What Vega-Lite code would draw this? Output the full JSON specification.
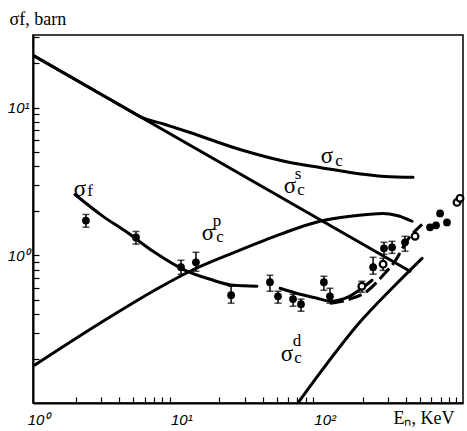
{
  "$schema": "https://vega.github.io/schema/vega-lite/v6.json",
  "width": 430,
  "height": 368,
  "autosize": {"type": "none"},
  "padding": {"left": 33, "top": 35, "right": 4, "bottom": 28},
  "background": "white",
  "config": {
    "view": {"stroke": "black", "strokeWidth": 1.5},
    "axis": {"grid": false, "domainColor": "black", "domainWidth": 2, "tickColor": "black", "tickWidth": 1.2, "labelColor": "black", "titleColor": "black"}
  },
  "datasets": {
    "curves": [
      {"curve": "cs", "E": 1, "sigma": 22.6},
      {"curve": "cs", "E": 427, "sigma": 0.78},
      {"curve": "c", "E": 1, "sigma": 22.6},
      {"curve": "c", "E": 2, "sigma": 15.37},
      {"curve": "c", "E": 3.5, "sigma": 11.26},
      {"curve": "c", "E": 4.6, "sigma": 9.67},
      {"curve": "c", "E": 5.58, "sigma": 8.69},
      {"curve": "c", "E": 8.34, "sigma": 7.68},
      {"curve": "c", "E": 12.46, "sigma": 6.78},
      {"curve": "c", "E": 27.8, "sigma": 5.2},
      {"curve": "c", "E": 62.1, "sigma": 4.25},
      {"curve": "c", "E": 100.5, "sigma": 3.93},
      {"curve": "c", "E": 163, "sigma": 3.64},
      {"curve": "c", "E": 286, "sigma": 3.42},
      {"curve": "c", "E": 448, "sigma": 3.37},
      {"curve": "cp", "E": 1.03, "sigma": 0.181},
      {"curve": "cp", "E": 2.93, "sigma": 0.347},
      {"curve": "cp", "E": 7.69, "sigma": 0.608},
      {"curve": "cp", "E": 12.46, "sigma": 0.78},
      {"curve": "cp", "E": 26.5, "sigma": 1.064},
      {"curve": "cp", "E": 52.9, "sigma": 1.386},
      {"curve": "cp", "E": 100.5, "sigma": 1.7},
      {"curve": "cp", "E": 163, "sigma": 1.835},
      {"curve": "cp", "E": 277, "sigma": 1.92},
      {"curve": "cp", "E": 346, "sigma": 1.86},
      {"curve": "cp", "E": 441, "sigma": 1.7},
      {"curve": "fA", "E": 1.963, "sigma": 2.58},
      {"curve": "fA", "E": 3.08, "sigma": 1.835},
      {"curve": "fA", "E": 4.53, "sigma": 1.43},
      {"curve": "fA", "E": 6.88, "sigma": 1.064},
      {"curve": "fA", "E": 11.13, "sigma": 0.804},
      {"curve": "fA", "E": 17.2, "sigma": 0.688},
      {"curve": "fA", "E": 24.9, "sigma": 0.627},
      {"curve": "fA", "E": 36.5, "sigma": 0.617},
      {"curve": "fB", "E": 52.9, "sigma": 0.598},
      {"curve": "fB", "E": 72.9, "sigma": 0.545},
      {"curve": "fB", "E": 95.8, "sigma": 0.512},
      {"curve": "fB", "E": 118, "sigma": 0.489},
      {"curve": "fB", "E": 160, "sigma": 0.525},
      {"curve": "fB", "E": 197, "sigma": 0.598},
      {"curve": "fB", "E": 232, "sigma": 0.678},
      {"curve": "fC", "E": 118, "sigma": 0.474},
      {"curve": "fC", "E": 163, "sigma": 0.505},
      {"curve": "fC", "E": 214, "sigma": 0.571},
      {"curve": "fC", "E": 277, "sigma": 0.733},
      {"curve": "fC", "E": 335, "sigma": 0.911},
      {"curve": "fC", "E": 413, "sigma": 1.28},
      {"curve": "fC", "E": 518, "sigma": 1.62},
      {"curve": "cd", "E": 70.6, "sigma": 0.1},
      {"curve": "cd", "E": 105.5, "sigma": 0.17},
      {"curve": "cd", "E": 191, "sigma": 0.353},
      {"curve": "cd", "E": 325, "sigma": 0.608},
      {"curve": "cd", "E": 518, "sigma": 0.954}
    ],
    "points": [
      {"E": 2.34, "sigma": 1.72, "lo": 1.55, "hi": 1.89, "marker": "filled"},
      {"E": 5.23, "sigma": 1.32, "lo": 1.19, "hi": 1.45, "marker": "filled"},
      {"E": 10.78, "sigma": 0.83, "lo": 0.744, "hi": 0.925, "marker": "filled"},
      {"E": 13.7, "sigma": 0.897, "lo": 0.78, "hi": 1.048, "marker": "filled"},
      {"E": 24.1, "sigma": 0.537, "lo": 0.474, "hi": 0.617, "marker": "filled"},
      {"E": 45.0, "sigma": 0.657, "lo": 0.571, "hi": 0.733, "marker": "filled"},
      {"E": 51.2, "sigma": 0.528, "lo": 0.474, "hi": 0.571, "marker": "filled"},
      {"E": 65.2, "sigma": 0.505, "lo": 0.452, "hi": 0.545, "marker": "filled"},
      {"E": 74.1, "sigma": 0.467, "lo": 0.418, "hi": 0.505, "marker": "filled"},
      {"E": 107, "sigma": 0.657, "lo": 0.58, "hi": 0.721, "marker": "filled"},
      {"E": 118, "sigma": 0.528, "lo": 0.474, "hi": 0.598, "marker": "filled"},
      {"E": 197, "sigma": 0.617, "lo": 0.562, "hi": 0.667, "marker": "open"},
      {"E": 236, "sigma": 0.83, "lo": 0.744, "hi": 0.969, "marker": "filled"},
      {"E": 277, "sigma": 0.87, "lo": 0.79, "hi": 0.955, "marker": "open"},
      {"E": 281, "sigma": 1.115, "lo": 1.016, "hi": 1.224, "marker": "filled"},
      {"E": 320, "sigma": 1.133, "lo": 1.03, "hi": 1.243, "marker": "filled"},
      {"E": 394, "sigma": 1.224, "lo": 1.064, "hi": 1.344, "marker": "filled"},
      {"E": 463, "sigma": 1.344, "lo": null, "hi": null, "marker": "open"},
      {"E": 589, "sigma": 1.546, "lo": null, "hi": null, "marker": "filled"},
      {"E": 648, "sigma": 1.595, "lo": null, "hi": null, "marker": "filled"},
      {"E": 692, "sigma": 1.92, "lo": null, "hi": null, "marker": "filled"},
      {"E": 773, "sigma": 1.67, "lo": null, "hi": null, "marker": "filled"},
      {"E": 908, "sigma": 2.28, "lo": null, "hi": null, "marker": "open"},
      {"E": 953, "sigma": 2.43, "lo": null, "hi": null, "marker": "open"}
    ],
    "labels": [
      {"E": 112.5, "sigma": 4.67, "text": "σ", "part": "main"},
      {"E": 136.5, "sigma": 4.32, "text": "c", "part": "sub"},
      {"E": 62.1, "sigma": 2.93, "text": "σ", "part": "main"},
      {"E": 74.1, "sigma": 2.75, "text": "c", "part": "sub"},
      {"E": 70.6, "sigma": 3.53, "text": "s", "part": "sub"},
      {"E": 16.6, "sigma": 1.41, "text": "σ", "part": "main"},
      {"E": 20.2, "sigma": 1.32, "text": "c", "part": "sub"},
      {"E": 19.2, "sigma": 1.7, "text": "p", "part": "sub"},
      {"E": 2.13, "sigma": 2.79, "text": "σ", "part": "main"},
      {"E": 2.5, "sigma": 2.71, "text": "f", "part": "sub"},
      {"E": 59.2, "sigma": 0.214, "text": "σ", "part": "main"},
      {"E": 70.6, "sigma": 0.201, "text": "c", "part": "sub"},
      {"E": 69.5, "sigma": 0.262, "text": "d", "part": "sub"}
    ]
  },
  "layer": [
    {
      "encoding": {
        "x": {
          "field": "E", "type": "quantitative",
          "scale": {"type": "log", "domain": [1, 1000], "nice": false},
          "axis": {
            "values": [1, 10, 100, 1000],
            "labelExpr": "datum.value == 1 ? '10⁰' : datum.value == 10 ? '10¹' : datum.value == 100 ? '10²' : ''",
            "ticks": false,
            "labelPadding": 9,
            "labelOffset": 5,
            "labelFont": "Liberation Sans", "labelFontStyle": "italic", "labelFontSize": 15,
            "labelOverlap": false, "labelFlush": false,
            "title": "Eₙ, KeV",
            "titleFont": "Liberation Serif", "titleFontSize": 18, "titleFontWeight": "normal",
            "titleAngle": 0, "titleAlign": "left", "titleBaseline": "alphabetic",
            "titleX": 360, "titleY": 20
          }
        },
        "y": {
          "field": "sigma", "type": "quantitative",
          "scale": {"type": "log", "domain": [0.1, 31], "nice": false},
          "axis": {
            "values": [1, 10],
            "labelExpr": "datum.value == 1 ? '10⁰' : datum.value == 10 ? '10¹' : ''",
            "ticks": false,
            "labelPadding": 4,
            "labelFont": "Liberation Sans", "labelFontStyle": "italic", "labelFontSize": 15,
            "labelOverlap": false, "labelFlush": false,
            "title": "σf, barn",
            "titleFont": "Liberation Serif", "titleFontSize": 18, "titleFontWeight": "normal",
            "titleAngle": 0, "titleAlign": "left", "titleBaseline": "alphabetic",
            "titleX": -24, "titleY": -11
          }
        }
      },
      "layer": [
        {
          "data": {"name": "curves"},
          "transform": [{"filter": "datum.curve != 'fC'"}],
          "mark": {"type": "line", "color": "black", "strokeWidth": 3, "interpolate": "monotone", "clip": true, "strokeCap": "round"},
          "encoding": {"detail": {"field": "curve", "type": "nominal"}}
        },
        {
          "data": {"name": "curves"},
          "transform": [{"filter": "datum.curve == 'fC'"}],
          "mark": {"type": "line", "color": "black", "strokeWidth": 3, "interpolate": "monotone", "clip": true, "strokeDash": [14, 5]},
          "encoding": {"detail": {"field": "curve", "type": "nominal"}}
        },
        {
          "data": {"name": "points"},
          "transform": [{"filter": "isValid(datum.lo)"}],
          "mark": {"type": "errorbar", "color": "black", "thickness": 1.5, "ticks": {"size": 7, "thickness": 1.5, "color": "black"}},
          "encoding": {
            "y": {"field": "lo", "type": "quantitative", "scale": {"type": "log", "domain": [0.1, 31], "nice": false}},
            "y2": {"field": "hi"}
          }
        },
        {
          "data": {"name": "points"},
          "transform": [{"filter": "datum.marker == 'filled'"}],
          "mark": {"type": "circle", "color": "black", "size": 60, "opacity": 1}
        },
        {
          "data": {"name": "points"},
          "transform": [{"filter": "datum.marker == 'open'"}],
          "mark": {"type": "point", "shape": "circle", "filled": false, "fill": "white", "stroke": "black", "strokeWidth": 2.2, "size": 45, "opacity": 1}
        },
        {
          "data": {"name": "labels"},
          "transform": [{"filter": "datum.part == 'main'"}],
          "mark": {"type": "text", "font": "Liberation Serif", "fontSize": 23, "color": "black", "align": "center", "baseline": "middle"},
          "encoding": {"text": {"field": "text"}}
        },
        {
          "data": {"name": "labels"},
          "transform": [{"filter": "datum.part == 'sub'"}],
          "mark": {"type": "text", "font": "Liberation Serif", "fontSize": 17, "color": "black", "align": "center", "baseline": "middle"},
          "encoding": {"text": {"field": "text"}}
        }
      ]
    },
    {
      "data": {"name": "points"},
      "mark": {"type": "point", "opacity": 0},
      "encoding": {
        "x": {
          "field": "E", "type": "quantitative",
          "scale": {"type": "log", "domain": [1, 1000], "nice": false},
          "axis": {
            "orient": "bottom", "offset": -6, "tickSize": 6, "domain": false, "labels": false, "title": null,
            "values": [2,3,4,5,6,7,8,9,20,30,40,50,60,70,80,90,200,300,400,500,600,700,800,900]
          }
        },
        "y": {
          "field": "sigma", "type": "quantitative",
          "scale": {"type": "log", "domain": [0.1, 31], "nice": false},
          "axis": {
            "orient": "left", "offset": -6, "tickSize": 6, "domain": false, "labels": false, "title": null,
            "values": [0.2,0.3,0.4,0.5,0.6,0.7,0.8,0.9,1,2,3,4,5,6,7,8,9,10,20,30]
          }
        }
      }
    }
  ],
  "resolve": {"axis": {"x": "independent", "y": "independent"}}
}
